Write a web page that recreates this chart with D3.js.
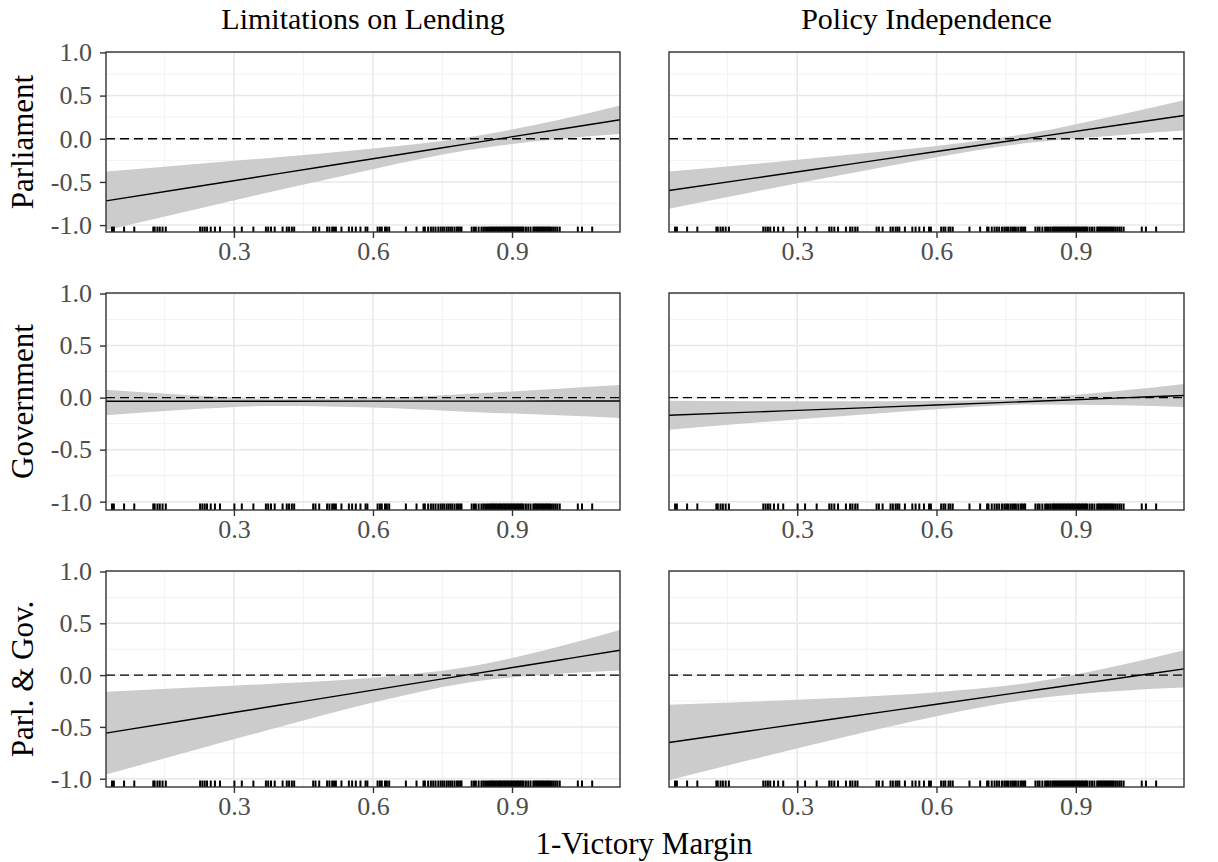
<!DOCTYPE html>
<html>
<head>
<meta charset="utf-8">
<script src="https://cdn.jsdelivr.net/npm/d3@7"></script>
<style>
  body { margin: 0; background: #fff; }
  svg { font-family: "Liberation Serif", "DejaVu Serif", serif; }
</style>
</head>
<body>
<div id="chart"></div>
<script>

// column / row labels
var colTitles = ["Limitations on Lending", "Policy Independence"];
var rowTitles = ["Parliament", "Government", "Parl. & Gov."];
var xTitle = "1-Victory Margin";

// axis ticks
var xTicks = [0.3, 0.6, 0.9];
var xMinor = [0.15, 0.45, 0.75, 1.05];
var yTicks = [-1.0, -0.5, 0.0, 0.5, 1.0];
var yMinor = [-0.75, -0.25, 0.25, 0.75];

// x points where the estimates were read off
var xs = [0.024, 0.2, 0.4, 0.6, 0.8, 1.0, 1.133];

// marginal effect, lower and upper bounds
var fitParlLend = [-0.72, -0.571, -0.401, -0.232, -0.062, 0.108, 0.22];
var loParlLend  = [-1.06, -0.841, -0.591, -0.352, -0.137, -0.002, 0.055];
var hiParlLend  = [-0.38, -0.301, -0.211, -0.112, 0.013, 0.218, 0.385];

var fitParlPol = [-0.60, -0.462, -0.305, -0.148, 0.008, 0.165, 0.27];
var loParlPol  = [-0.81, -0.622, -0.415, -0.213, -0.047, 0.045, 0.095];
var hiParlPol  = [-0.38, -0.295, -0.19, -0.083, 0.063, 0.285, 0.445];

var fitGovLend = [-0.035, -0.035, -0.035, -0.034, -0.034, -0.033, -0.033];
var loGovLend  = [-0.17, -0.115, -0.08, -0.095, -0.135, -0.17, -0.195];
var hiGovLend  = [0.075, 0.025, -0.015, -0.005, 0.035, 0.085, 0.12];

var fitGovPol = [-0.17, -0.14, -0.106, -0.071, -0.037, -0.003, 0.02];
var loGovPol  = [-0.31, -0.245, -0.176, -0.111, -0.067, -0.073, -0.09];
var hiGovPol  = [-0.03, -0.035, -0.036, -0.031, -0.007, 0.067, 0.13];

var fitBothLend = [-0.56, -0.433, -0.289, -0.145, 0.0, 0.144, 0.24];
var loBothLend  = [-0.96, -0.743, -0.499, -0.265, -0.075, 0.014, 0.045];
var hiBothLend  = [-0.16, -0.123, -0.079, -0.025, 0.075, 0.274, 0.435];

var fitBothPol = [-0.65, -0.537, -0.409, -0.281, -0.153, -0.025, 0.06];
var loBothPol  = [-1.015, -0.817, -0.599, -0.396, -0.233, -0.15, -0.12];
var hiBothPol  = [-0.285, -0.257, -0.219, -0.166, -0.073, 0.10, 0.24];

// observed values of 1-victory margin (rug)
var rug = [0.037, 0.041, 0.063, 0.085, 0.126, 0.129, 0.135, 0.140, 0.146, 0.153,
  0.227, 0.232, 0.237, 0.242, 0.250, 0.259, 0.270, 0.301, 0.317, 0.342,
  0.369, 0.374, 0.380, 0.388, 0.405, 0.414, 0.419, 0.425, 0.430,
  0.471, 0.476, 0.484, 0.501, 0.506, 0.512, 0.516, 0.520,
  0.532, 0.548, 0.555, 0.563, 0.573, 0.584, 0.588,
  0.610, 0.615, 0.619, 0.626, 0.630, 0.635, 0.671,
  0.694, 0.709, 0.712, 0.719, 0.725, 0.730, 0.735, 0.741, 0.746, 0.750,
  0.754, 0.759, 0.763, 0.767, 0.771, 0.776, 0.781, 0.784, 0.788, 0.791,
  0.813, 0.818, 0.822, 0.828, 0.834, 0.838, 0.842, 0.846, 0.850, 0.853,
  0.856, 0.859, 0.862, 0.865, 0.868, 0.871, 0.874, 0.877, 0.880, 0.883,
  0.886, 0.889, 0.892, 0.895, 0.898, 0.901, 0.904, 0.907, 0.910, 0.913,
  0.916, 0.919, 0.922, 0.925, 0.930, 0.935, 0.940, 0.946, 0.949, 0.952,
  0.955, 0.958, 0.961, 0.964, 0.967, 0.970, 0.973, 0.976, 0.979, 0.982,
  0.986, 0.990, 0.994, 0.998, 1.003, 1.042, 1.051, 1.073];

var panels = [
  { row: 0, col: 0, fit: fitParlLend, lo: loParlLend, hi: hiParlLend },
  { row: 0, col: 1, fit: fitParlPol,  lo: loParlPol,  hi: hiParlPol },
  { row: 1, col: 0, fit: fitGovLend,  lo: loGovLend,  hi: hiGovLend },
  { row: 1, col: 1, fit: fitGovPol,   lo: loGovPol,   hi: hiGovPol },
  { row: 2, col: 0, fit: fitBothLend, lo: loBothLend, hi: hiBothLend },
  { row: 2, col: 1, fit: fitBothPol,  lo: loBothPol,  hi: hiBothPol }
];

var W = 1218, H = 862;
var colX = [[106, 620], [669, 1184]];
var rowY = [[52, 232], [293, 510], [571, 787]];

var svg = d3.select("#chart").append("svg")
  .attr("width", W)
  .attr("height", H);

svg.append("rect").attr("width", W).attr("height", H).attr("fill", "#fff");

var grey20 = "#333333";
var grey30 = "#4d4d4d";
var fmt = function(d) { return d < 0 ? "-" + d3.format(".1f")(-d) : d3.format(".1f")(d); };

panels.forEach(function(p) {
  var x = d3.scaleLinear().domain([0.024, 1.133]).range(colX[p.col]);
  var y = d3.scaleLinear().domain([-1.08, 1.005]).range([rowY[p.row][1], rowY[p.row][0]]);
  var x0 = colX[p.col][0], x1 = colX[p.col][1];
  var y0 = rowY[p.row][0], y1 = rowY[p.row][1];

  var g = svg.append("g");

  // grid
  g.selectAll(".gmx").data(xMinor).enter().append("line")
    .attr("x1", x).attr("x2", x).attr("y1", y0).attr("y2", y1)
    .attr("stroke", "#f0f0f0").attr("stroke-width", 0.9);
  g.selectAll(".gmy").data(yMinor).enter().append("line")
    .attr("x1", x0).attr("x2", x1).attr("y1", y).attr("y2", y)
    .attr("stroke", "#f0f0f0").attr("stroke-width", 0.9);
  g.selectAll(".gx").data(xTicks).enter().append("line")
    .attr("x1", x).attr("x2", x).attr("y1", y0).attr("y2", y1)
    .attr("stroke", "#e8e8e8").attr("stroke-width", 1.5);
  g.selectAll(".gy").data(yTicks).enter().append("line")
    .attr("x1", x0).attr("x2", x1).attr("y1", y).attr("y2", y)
    .attr("stroke", "#e8e8e8").attr("stroke-width", 1.5);

  var pts = xs.map(function(v, i) { return { x: v, fit: p.fit[i], lo: p.lo[i], hi: p.hi[i] }; });

  // ribbon
  g.append("path")
    .datum(pts)
    .attr("fill", "#cccccc")
    .attr("d", d3.area()
      .curve(d3.curveMonotoneX)
      .x(function(d) { return x(d.x); })
      .y0(function(d) { return y(d.lo); })
      .y1(function(d) { return y(d.hi); }));

  // zero line
  g.append("line")
    .attr("x1", x0).attr("x2", x1).attr("y1", y(0)).attr("y2", y(0))
    .attr("stroke", "#000").attr("stroke-width", 1.4)
    .attr("stroke-dasharray", "9,5");

  // estimate
  g.append("path")
    .datum(pts)
    .attr("fill", "none")
    .attr("stroke", "#000")
    .attr("stroke-width", 1.4)
    .attr("d", d3.line()
      .curve(d3.curveMonotoneX)
      .x(function(d) { return x(d.x); })
      .y(function(d) { return y(d.fit); }));

  // rug
  var rugLen = (y1 - y0) * 0.03;
  g.selectAll(".rug").data(rug).enter().append("line")
    .attr("x1", x).attr("x2", x)
    .attr("y1", y1).attr("y2", y1 - rugLen)
    .attr("stroke", "#000").attr("stroke-width", 2);

  // border
  g.append("rect")
    .attr("x", x0).attr("y", y0)
    .attr("width", x1 - x0).attr("height", y1 - y0)
    .attr("fill", "none").attr("stroke", grey20).attr("stroke-width", 1.4);

  // x axis
  var xa = g.append("g").attr("transform", "translate(0," + y1 + ")")
    .call(d3.axisBottom(x).tickValues(xTicks).tickFormat(d3.format(".1f")).tickSize(6).tickPadding(4));
  xa.select(".domain").remove();
  xa.selectAll("line").attr("stroke", grey20).attr("stroke-width", 1.4);
  xa.selectAll("text").attr("fill", grey30).style("font-size", "26px").style("font-family", "Liberation Serif");

  // y axis only on left column
  if (p.col === 0) {
    var ya = g.append("g").attr("transform", "translate(" + x0 + ",0)")
      .call(d3.axisLeft(y).tickValues(yTicks).tickFormat(fmt).tickSize(6).tickPadding(8));
    ya.select(".domain").remove();
    ya.selectAll("line").attr("stroke", grey20).attr("stroke-width", 1.4);
    ya.selectAll("text").attr("fill", grey30).style("font-size", "26px").style("font-family", "Liberation Serif");
  }
});

// column titles
svg.selectAll(".ct").data(colTitles).enter().append("text")
  .attr("x", function(d, i) { return (colX[i][0] + colX[i][1]) / 2; })
  .attr("y", 29)
  .attr("text-anchor", "middle")
  .attr("fill", "#000")
  .style("font-size", "30px")
  .text(function(d) { return d; });

// row titles
svg.selectAll(".rt").data(rowTitles).enter().append("text")
  .attr("text-anchor", "middle")
  .attr("fill", "#000")
  .style("font-size", "31px")
  .attr("transform", function(d, i) {
    return "translate(33," + ((rowY[i][0] + rowY[i][1]) / 2) + ") rotate(-90)";
  })
  .text(function(d) { return d; });

// x title
svg.append("text")
  .attr("x", 644)
  .attr("y", 854)
  .attr("text-anchor", "middle")
  .attr("fill", "#000")
  .style("font-size", "31px")
  .text(xTitle);

</script>
</body>
</html>
